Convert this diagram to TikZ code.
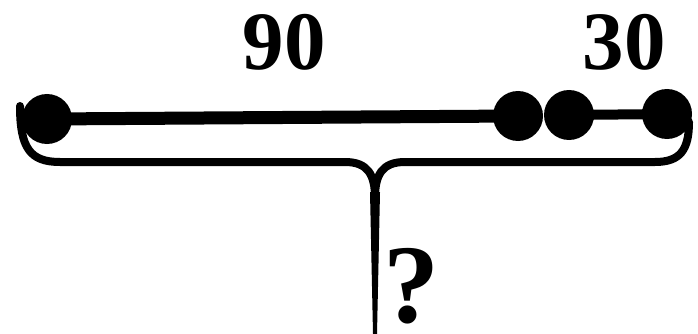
\documentclass[tikz,border=0pt]{standalone}
\usepackage{fontspec}
\setmainfont{Liberation Serif}
\begin{document}
\begin{tikzpicture}[x=1pt,y=-1pt,
  dot/.style={circle,fill=black,inner sep=0pt,minimum size=50pt},
  lbl/.style={font=\fontsize{83}{90}\selectfont\bfseries,inner sep=0pt},
  qlbl/.style={font=\fontsize{112}{114}\selectfont\bfseries,inner sep=0pt,text depth=0pt},
  brace/.style={line width=8pt,line cap=round}]
\useasboundingbox (0,0) rectangle (698,334);
% brace
\draw[brace] (20,106) .. controls (20,148) and (30,162) .. (60,162) -- (345,162)
  .. controls (368,162) and (375,175) .. (375,198);
\draw[brace] (689,122) .. controls (689,150) and (680,162) .. (655,162) -- (405,162)
  .. controls (382,162) and (375,175) .. (375,198);
\fill (370,192) -- (380,192) -- (377,334) -- (373,334) -- cycle;
% line and dots
\node[dot] (a) at (47,119) {};
\node[dot] (b) at (518,116) {};
\node[dot] (c) at (569,115) {};
\node[dot] (d) at (667,114) {};
\draw[line width=13pt] (a.center) -- (b.center);
\draw[line width=10pt] (c.center) -- (d.center);
% labels
\node[lbl] (n90) at (284,42) {90};
\node[lbl] (n30) at (624,42) {30};
\node[qlbl,anchor=south] (q) at (411,323) {?};
\end{tikzpicture}
\end{document}
